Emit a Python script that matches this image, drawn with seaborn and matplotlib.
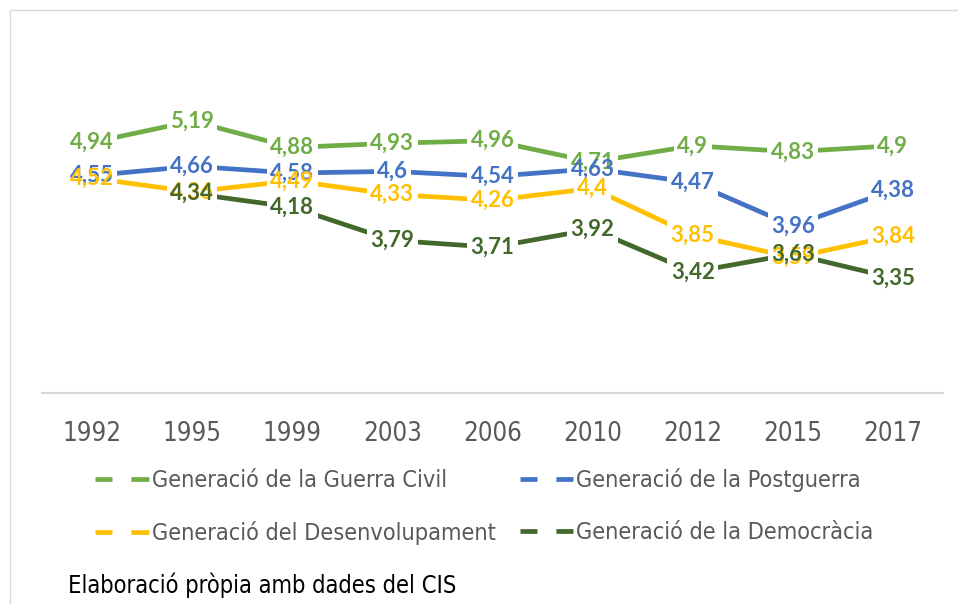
import numpy as np
import pandas as pd
import matplotlib
matplotlib.use("Agg")
import matplotlib.pyplot as plt
from matplotlib.lines import Line2D
from matplotlib.patches import Rectangle
import seaborn as sns

years = ["1992", "1995", "1999", "2003", "2006", "2010", "2012", "2015", "2017"]
series_names = ["Generació de la Guerra Civil", "Generació de la Postguerra",
                "Generació del Desenvolupament", "Generació de la Democràcia"]
guerra_civil = [4.94, 5.19, 4.88, 4.93, 4.96, 4.71, 4.90, 4.83, 4.90]
postguerra = [4.55, 4.66, 4.58, 4.60, 4.54, 4.63, 4.47, 3.96, 4.38]
desenvolupament = [4.52, 4.36, 4.49, 4.33, 4.26, 4.40, 3.85, 3.59, 3.84]
democracia = [np.nan, 4.34, 4.18, 3.79, 3.71, 3.92, 3.42, 3.63, 3.35]
colors = ["#70AD47", "#4472C4", "#FFC000", "#43682B"]
caption = "Elaboració pròpia amb dades del CIS"

all_series = [guerra_civil, postguerra, desenvolupament, democracia]
rows = []
for name, vals in zip(series_names, all_series):
    for i, (yr, v) in enumerate(zip(years, vals)):
        rows.append({"x": i, "year": yr, "serie": name, "valor": v})
df = pd.DataFrame(rows)

sns.set_theme(style="white")
plt.rcParams["font.family"] = ["DejaVu Sans"]
narrow = ["Liberation Sans Narrow", "DejaVu Sans"]

fig = plt.figure(figsize=(9.58, 6.04), dpi=100)
ax = fig.add_axes([42/958, (604-393)/604, (943-42)/958, (393-52)/604])

sns.lineplot(data=df.dropna(), x="x", y="valor", hue="serie", hue_order=series_names,
             palette=colors, linewidth=3.4, ax=ax, legend=False, sort=True)

ax.set_xlim(-0.5, len(years) - 0.5)
ax.set_ylim(2, 6)
ax.set_xticks(range(len(years)))
ax.set_xticklabels(years, fontsize=18.5, color="#595959", family=narrow, fontstretch="condensed")
ax.set_yticks([])
ax.set_xlabel("")
ax.set_ylabel("")
ax.tick_params(axis="x", length=0, pad=20)
for s in ["top", "right", "left"]:
    ax.spines[s].set_visible(False)
ax.spines["bottom"].set_color("#D9D9D9")
ax.spines["bottom"].set_linewidth(1.5)

label_font = ["Lato", "DejaVu Sans"]
# white knockouts first
for vals, c in zip(all_series, colors):
    for i, v in enumerate(vals):
        if np.isnan(v):
            continue
        ax.text(i, v, f"{v:g}".replace(".", ","), ha="center", va="center",
                fontsize=16, fontweight="bold", color="white", family=label_font,
                bbox=dict(boxstyle="square,pad=0.15", fc="white", ec="none"), zorder=3)
for vals, c in zip(all_series, colors):
    for i, v in enumerate(vals):
        if np.isnan(v):
            continue
        ax.text(i, v, f"{v:g}".replace(".", ","), ha="center", va="center",
                fontsize=16, fontweight="bold", color=c, family=label_font, zorder=4)

handles = [Line2D([0], [0], color=c, lw=3.4, linestyle=(0.4, (4.0, 4.0))) for c in colors]
order = [0, 2, 1, 3]
leg = fig.legend([handles[k] for k in order], [series_names[k] for k in order],
                 loc="upper left", bbox_to_anchor=(74/958, 1 - 447/604),
                 ncol=2, frameon=False, handlelength=2.3, handletextpad=0.13,
                 columnspacing=1.03, labelspacing=1.25,
                 prop={"family": narrow, "stretch": "condensed", "size": 16.8})
for t in leg.get_texts():
    t.set_color("#595959")

fig.text(68/958, 1 - 585/604, caption, fontsize=17, color="black", va="center",
         family=narrow, fontstretch="condensed")

fig.patches.append(Rectangle((10/958, -0.01), 1.05, 1 - 10/604 + 0.01, transform=fig.transFigure,
                             fill=False, ec="#D9D9D9", lw=1))

fig.savefig("out.png", dpi=100)
